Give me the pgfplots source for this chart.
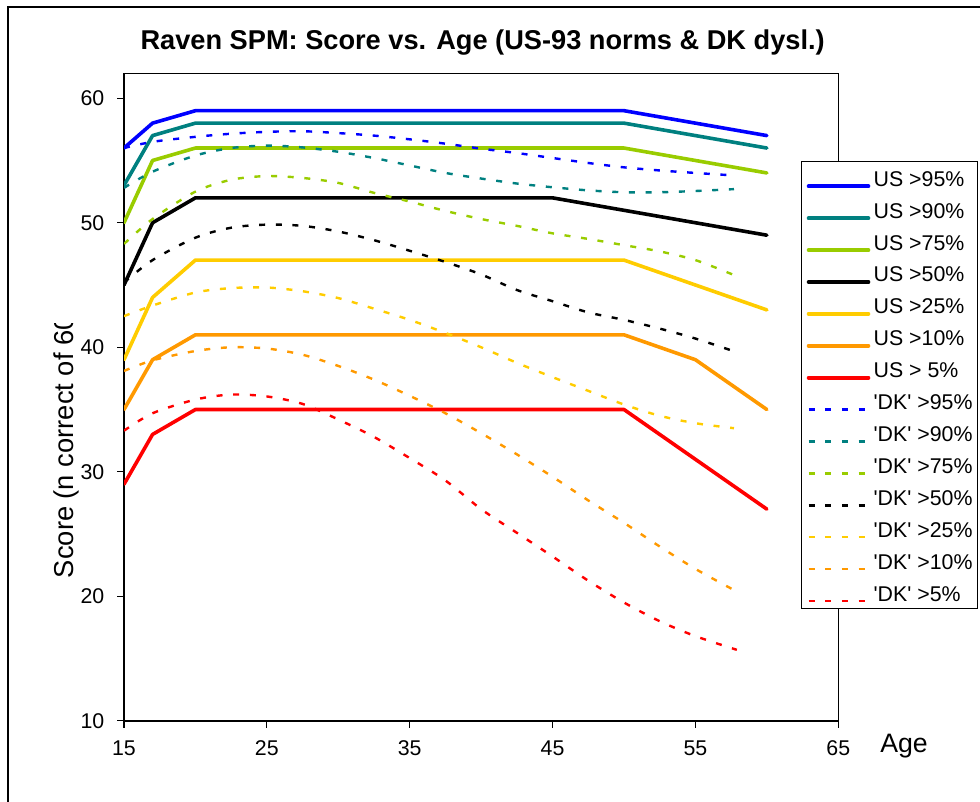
\documentclass[border=0pt]{standalone}
\usepackage{pgfplots}
\pgfplotsset{compat=1.18}
\usepackage{fontspec}
\setmainfont{Liberation Sans}
\definecolor{cblue}{RGB}{0,0,255}
\definecolor{cteal}{RGB}{0,128,128}
\definecolor{cgreen}{RGB}{153,204,0}
\definecolor{cgold}{RGB}{255,204,0}
\definecolor{corange}{RGB}{255,153,0}
\definecolor{cred}{RGB}{255,0,0}
\tikzset{
  us/.style={line width=2.7pt, line cap=round, line join=round},
  dk/.style={line width=1.8pt, dash pattern=on 4.5pt off 8pt, smooth},
}
\newcommand{\DK}{\textquotesingle DK\textquotesingle}
\begin{document}
\begin{tikzpicture}
\useasboundingbox (0,0) rectangle (735pt,600.75pt);
\draw[line width=1.1pt] (6pt,-5pt) -- (6pt,595.5pt) -- (745pt,595.5pt);
\node[font=\bfseries\fontsize{20.4}{20.4}\selectfont] at (362pt,568.5pt) {Raven SPM: Score vs. Age (US-93 norms \& DK dysl.)};
\begin{scope}
\clip (0pt,0pt) rectangle (90pt,358.5pt);
\node[rotate=90,anchor=base west,inner sep=0pt,font=\fontsize{20.5}{20.5}\selectfont] at (55pt,167pt) {Score (n correct of 60)};
\end{scope}
\node[anchor=west,font=\fontsize{20}{20}\selectfont,inner sep=0pt] at (660pt,41.5pt) {Age};
\begin{axis}[
  at={(93pt,60.15pt)}, anchor=south west,
  width=535.7pt, height=485.6pt, scale only axis,
  xmin=15, xmax=65, ymin=10, ymax=62,
  xtick={15,25,...,65}, ytick={10,20,...,60},
  tick align=outside, tick pos=left, major tick length=5.25pt,
  axis line style={line width=1.1pt},
  every tick/.style={black,line width=0.9pt},
  ticklabel style={font=\fontsize{16}{16}\selectfont},
  /pgf/number format/assume math mode=true,
  xticklabel style={yshift=-6pt},
  yticklabel style={xshift=-6pt},
  legend cell align=left,
  legend image code/.code={\draw[#1] (1pt,0pt) -- (46pt,0pt);},
  legend style={at={(rel axis cs:0.948,0.8647)}, anchor=north west,
    draw=black, line width=1pt, fill=white,
    font=\fontsize{16}{16}\selectfont,
    inner xsep=3.7pt, inner ysep=2pt, row sep=3.73pt, column sep=2.5pt,
    nodes={inner sep=0pt, text height=16.5pt, text depth=3.7pt, anchor=base west}},
]
\addplot[cblue, us] coordinates {(15,56) (17,58) (20,59) (25,59) (30,59) (35,59) (40,59) (45,59) (50,59) (55,58) (60,57)};
\addlegendentry{US >95\%}
\addplot[cteal, us] coordinates {(15,53) (17,57) (20,58) (25,58) (30,58) (35,58) (40,58) (45,58) (50,58) (55,57) (60,56)};
\addlegendentry{US >90\%}
\addplot[cgreen, us] coordinates {(15,50) (17,55) (20,56) (25,56) (30,56) (35,56) (40,56) (45,56) (50,56) (55,55) (60,54)};
\addlegendentry{US >75\%}
\addplot[black, us] coordinates {(15,45) (17,50) (20,52) (25,52) (30,52) (35,52) (40,52) (45,52) (50,51) (55,50) (60,49)};
\addlegendentry{US >50\%}
\addplot[cgold, us] coordinates {(15,39) (17,44) (20,47) (25,47) (30,47) (35,47) (40,47) (45,47) (50,47) (55,45) (60,43)};
\addlegendentry{US >25\%}
\addplot[corange, us] coordinates {(15,35) (17,39) (20,41) (25,41) (30,41) (35,41) (40,41) (45,41) (50,41) (55,39) (60,35)};
\addlegendentry{US >10\%}
\addplot[cred, us] coordinates {(15,29) (17,33) (20,35) (25,35) (30,35) (35,35) (40,35) (45,35) (50,35) (55,31) (60,27)};
\addlegendentry{US > 5\%}
\addplot[cblue, dk] coordinates {(15,56.0) (17,56.5) (20,56.9) (22.5,57.15) (25,57.3) (27.5,57.35) (30,57.2) (32.5,57.0) (35,56.7) (37.5,56.35) (40,55.95) (42.5,55.6) (45,55.2) (47.5,54.8) (50,54.45) (52.5,54.2) (55,54.0) (57.7,53.8)};
\addlegendentry{\DK{} >95\%}
\addplot[cteal, dk] coordinates {(15,52.8) (17,54.1) (20,55.4) (22.5,56.0) (25,56.2) (27.5,56.05) (30,55.7) (32.5,55.2) (35,54.6) (37.5,54.0) (40,53.55) (42.5,53.15) (45,52.85) (47.5,52.6) (50,52.45) (52.5,52.45) (55,52.55) (57.7,52.7)};
\addlegendentry{\DK{} >90\%}
\addplot[cgreen, dk] coordinates {(15,48.3) (17,50.3) (20,52.5) (22.5,53.45) (25,53.75) (27.5,53.6) (30,53.2) (32.5,52.4) (35,51.7) (37.5,50.95) (40,50.3) (42.5,49.75) (45,49.15) (47.5,48.7) (50,48.2) (52.5,47.7) (55,47.0) (57.7,45.8)};
\addlegendentry{\DK{} >75\%}
\addplot[black, dk] coordinates {(15,45.2) (17,47.0) (20,48.8) (22.5,49.6) (25,49.85) (27.5,49.75) (30,49.3) (32.5,48.6) (35,47.75) (37.5,46.85) (40,45.85) (42.5,44.6) (45,43.7) (47.5,42.8) (50,42.2) (52.5,41.5) (55,40.7) (57.9,39.6)};
\addlegendentry{\DK{} >50\%}
\addplot[cgold, dk] coordinates {(15,42.5) (17,43.35) (20,44.4) (22.5,44.75) (25,44.8) (27.5,44.5) (30,43.95) (32.5,43.1) (35,42.2) (37.5,41.15) (40,40.0) (42.5,38.75) (45,37.6) (47.5,36.5) (50,35.4) (52.5,34.5) (55,33.9) (57.7,33.5)};
\addlegendentry{\DK{} >25\%}
\addplot[corange, dk] coordinates {(15,38.1) (17,38.95) (20,39.7) (22.5,40.0) (25,39.9) (27.5,39.4) (30,38.5) (32.5,37.4) (35,36.1) (37.5,34.7) (40,33.1) (42.5,31.4) (45,29.6) (47.5,27.7) (50,25.9) (52.5,24.0) (55,22.2) (57.7,20.5)};
\addlegendentry{\DK{} >10\%}
\addplot[cred, dk] coordinates {(15,33.3) (17,34.7) (20,35.8) (22.5,36.2) (25,36.05) (27.5,35.45) (30,34.2) (32.5,32.8) (35,31.1) (37.5,29.3) (40,27.0) (42.5,25.1) (45,23.2) (47.5,21.25) (50,19.5) (52.5,18.0) (55,16.8) (57.9,15.7)};
\addlegendentry{\DK{} >5\%}
\end{axis}
\end{tikzpicture}
\end{document}
